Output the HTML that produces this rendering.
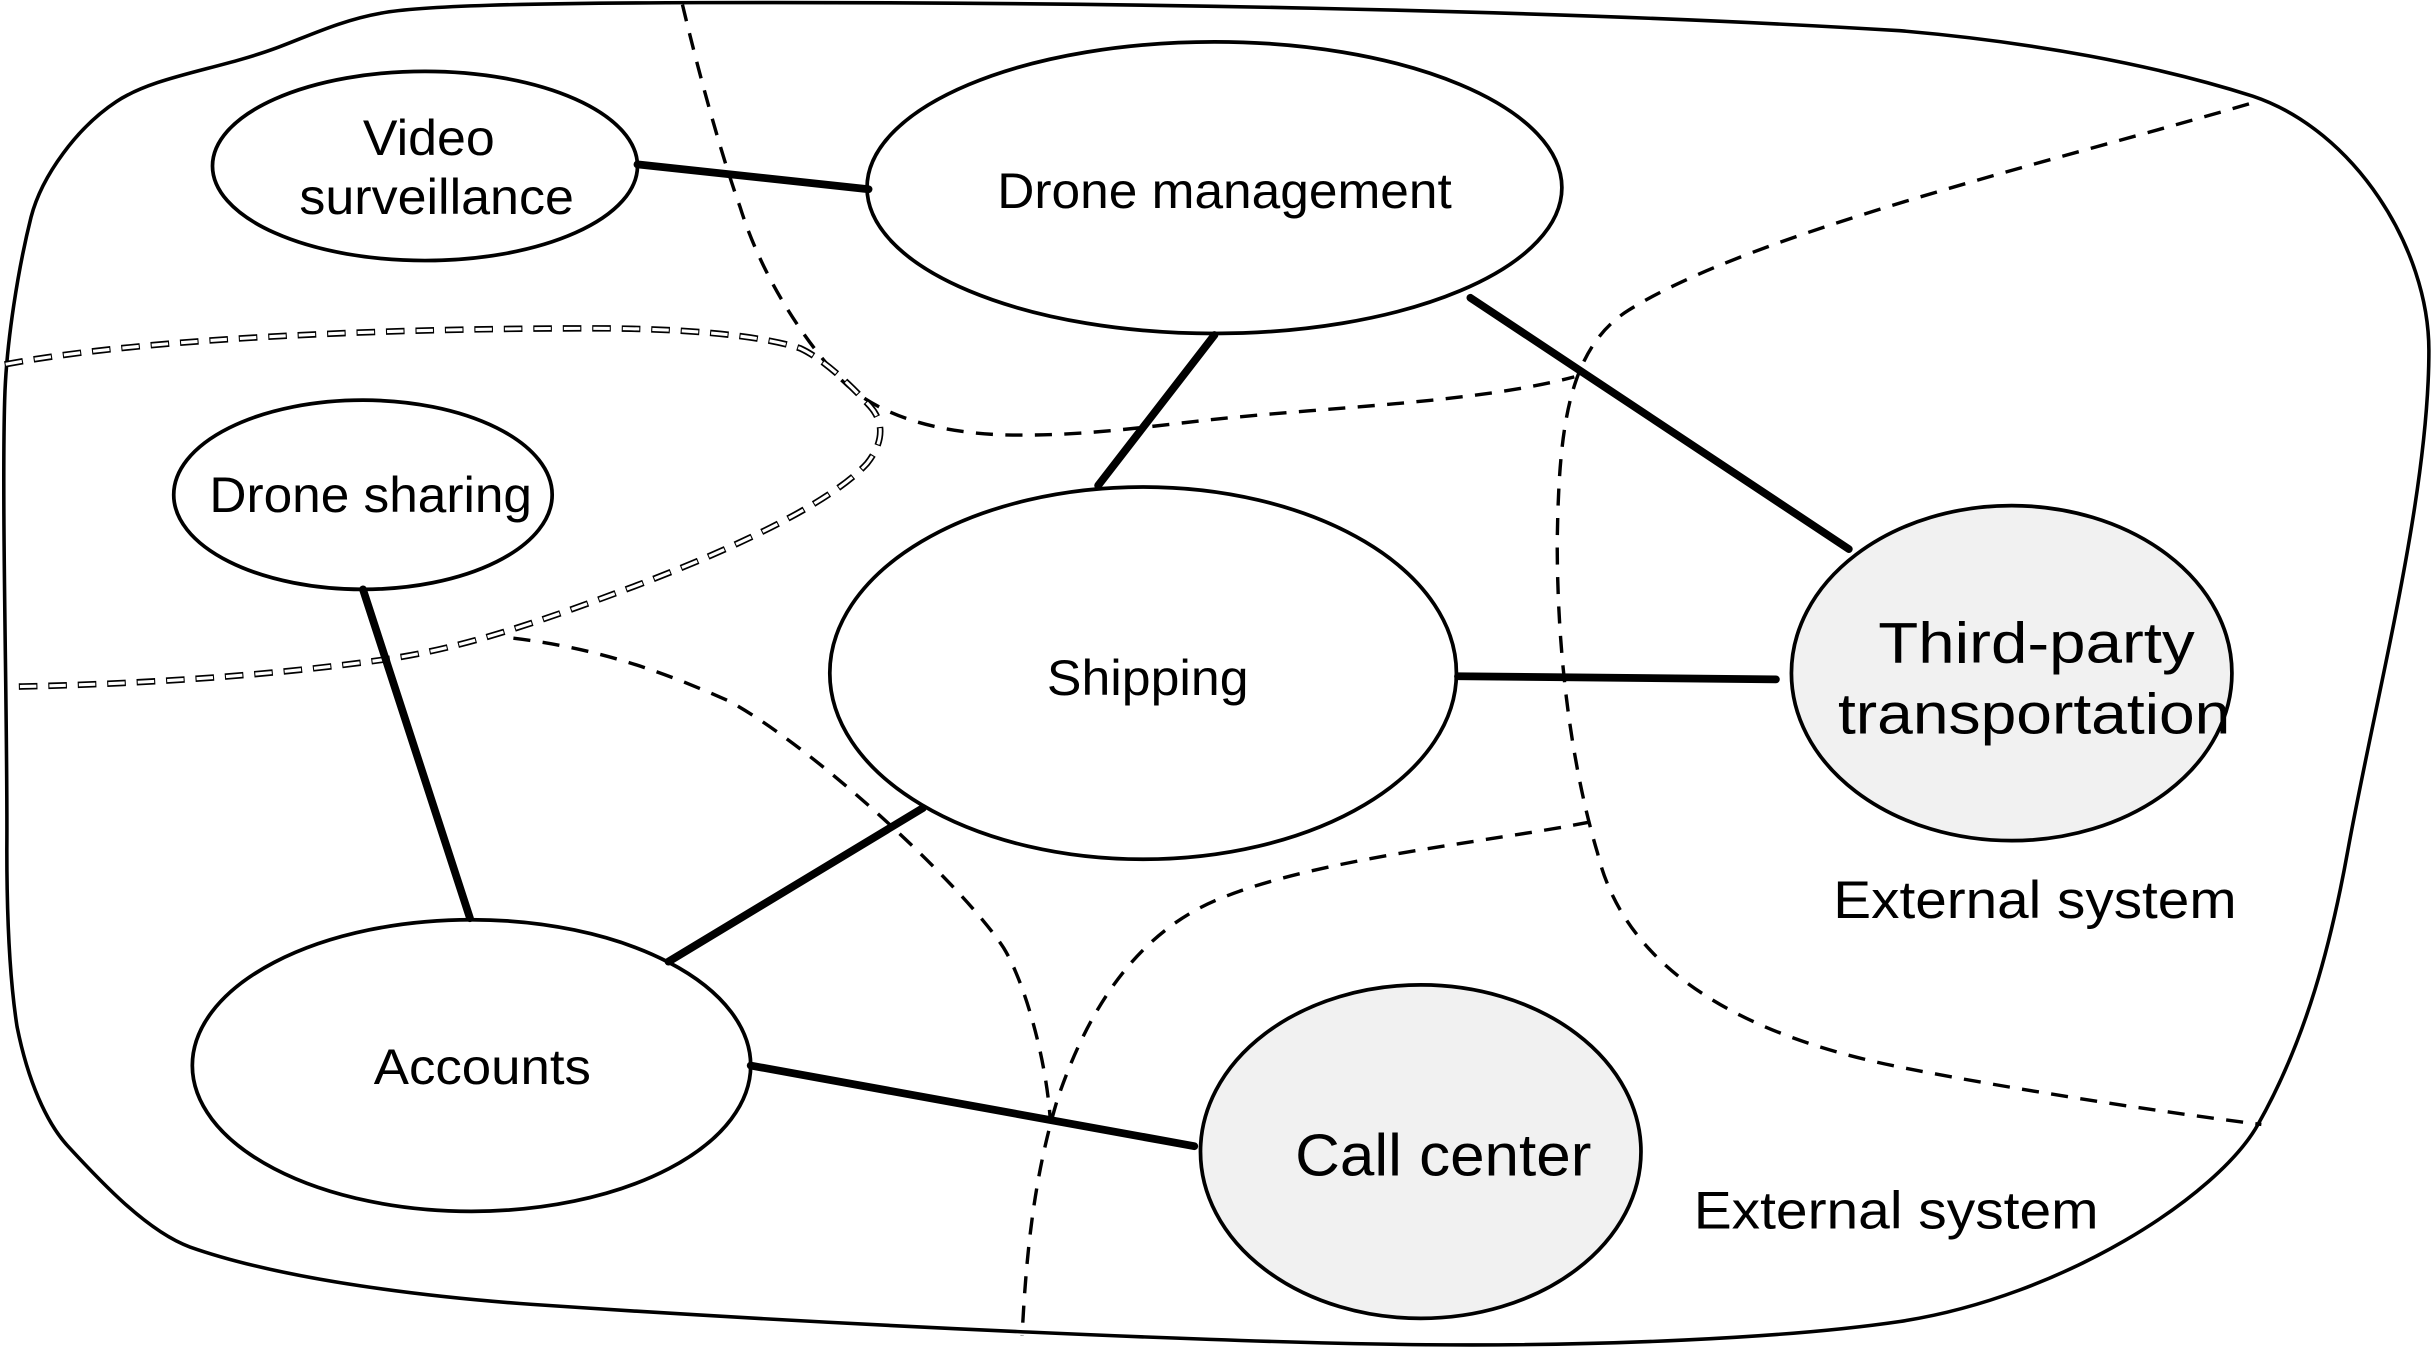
<!DOCTYPE html>
<html><head><meta charset="utf-8"><title>Diagram</title>
<style>html,body{margin:0;padding:0;background:#fff}svg{display:block}
text{font-family:"Liberation Sans",sans-serif;fill:#000}</style></head>
<body>
<svg width="2432" height="1350" viewBox="0 0 1568 870.4" xmlns="http://www.w3.org/2000/svg">
<rect width="1568" height="871" fill="#fff"/>
<path fill="none" stroke="#000" stroke-width="2.3" d="M245 8.6 C270 3.6,340 2,451 1.7 C700 1,1000 6,1225 19.8 C1310 27,1390 42,1452.5 62 C1518 84,1566 160,1566 226 C1566 320,1532 448,1513.8 548 C1503 608,1487 670,1455.8 725 C1430 771,1330 836,1225 852 C1150 863,1030 868,920 867 C800 866,550 855,343 841 C280 836.5,185 826,122.5 804 C95 794,65 762,43.8 739 C30 724,18 697,11 662 C6 630,4.4 590,4.4 548 C5 470,1 330,3 258 C4 220,12 172,20 140 C27 113,50 82,75 65.5 C100 49,140 45,178 31 C198 23.6,220 13,245 8.6 Z"/>
<g fill="none" stroke="#000" stroke-width="2.2" stroke-dasharray="11 8">
<path d="M440 3 C450 45,465 100,477 133 C490 175,515 215,539.4 241.8 C565 270,610 280,653 280.5 C700 281,740 275,779 270.8 C860 262,950 260,1015 243"/>
<path d="M1450 67 C1320 105,1130 150,1050 200 C1010 225,1005 280,1004 350 C1004 430,1015 500,1030 550 C1042 600,1085 660,1225 688 C1275 698,1370 714,1458 725"/>
<path d="M331 411.5 C385 418,425 432,470 452 C525 482,620 570,647 611 C660 632,674 680,677 720"/>
<path d="M1025 530 C960 543,850 553,785 580 C730 603,700 655,681.7 709 C668 755,662 800,659 861"/>
</g>
<path fill="none" stroke="#000" stroke-width="4.2" stroke-dasharray="12 7" d="M3 235 C70 222,200 212,379 211.7 C430 211.5,487 215,516 224.6 C532 232,550 250,561 262 C570 272,570 285,559 298.8 C535 325,470 355,409 378 C350 400,300 418,246 425.5 C170 436,90 441,10 442.7"/>
<path fill="none" stroke="#fff" stroke-width="2" stroke-dasharray="10.6 8.4" stroke-dashoffset="-0.7" d="M3 235 C70 222,200 212,379 211.7 C430 211.5,487 215,516 224.6 C532 232,550 250,561 262 C570 272,570 285,559 298.8 C535 325,470 355,409 378 C350 400,300 418,246 425.5 C170 436,90 441,10 442.7"/>
<g fill="none" stroke="#000" stroke-width="2.4">
<ellipse cx="274" cy="107" rx="137" ry="61"/>
<ellipse cx="783" cy="121" rx="224" ry="94"/>
<ellipse cx="234" cy="319" rx="122" ry="61"/>
<ellipse cx="737" cy="434" rx="202" ry="120"/>
<ellipse cx="304" cy="687" rx="180" ry="94"/>
<ellipse cx="1297" cy="434" rx="142" ry="108" fill="#f1f1f1"/>
<ellipse cx="916" cy="742.5" rx="142" ry="107.5" fill="#f1f1f1"/>
</g>
<g stroke="#000" stroke-width="5" stroke-linecap="round">
<line x1="411" y1="106" x2="560" y2="122"/>
<line x1="783" y1="216" x2="708" y2="313"/>
<line x1="948" y1="192" x2="1192" y2="354"/>
<line x1="940" y1="436" x2="1145" y2="438"/>
<line x1="234" y1="380" x2="303" y2="592"/>
<line x1="595" y1="521" x2="431" y2="620"/>
<line x1="484" y1="687" x2="770" y2="739"/>
</g>
<g font-size="32">
<text x="234" y="100" textLength="85" lengthAdjust="spacingAndGlyphs">Video</text>
<text x="193" y="138" textLength="177" lengthAdjust="spacingAndGlyphs">surveillance</text>
<text x="643" y="134" textLength="293" lengthAdjust="spacingAndGlyphs">Drone management</text>
<text x="135" y="330" textLength="208" lengthAdjust="spacingAndGlyphs">Drone sharing</text>
<text x="675" y="448" textLength="130" lengthAdjust="spacingAndGlyphs">Shipping</text>
<text x="241" y="699" textLength="140" lengthAdjust="spacingAndGlyphs">Accounts</text>
<text x="1211" y="427" font-size="37" textLength="204" lengthAdjust="spacingAndGlyphs">Third-party</text>
<text x="1185" y="473" font-size="37" textLength="253" lengthAdjust="spacingAndGlyphs">transportation</text>
<text x="835" y="758" font-size="38" textLength="191" lengthAdjust="spacingAndGlyphs">Call center</text>
<text x="1182" y="592" font-size="34" textLength="260" lengthAdjust="spacingAndGlyphs">External system</text>
<text x="1092" y="792" font-size="34" textLength="261" lengthAdjust="spacingAndGlyphs">External system</text>
</g>
</svg>
</body></html>
